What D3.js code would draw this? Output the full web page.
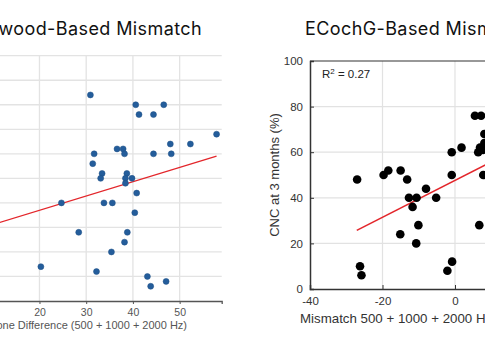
<!DOCTYPE html>
<html>
<head>
<meta charset="utf-8">
<script src="https://cdn.jsdelivr.net/npm/d3@7"></script>
<style>
  html, body { margin: 0; padding: 0; background: #fff; }
  svg { display: block; }
</style>
</head>
<body>
<script>
// ---------- data ----------
const greenX = [30.9, 40.6, 46.6, 41.3, 44.4, 57.9, 48.0, 52.3, 36.6, 37.9, 31.7, 38.2, 44.4, 48.2, 31.4, 33.4, 38.7, 33.1, 38.4, 39.8, 38.4, 40.8, 24.7, 33.8, 35.6, 40.4, 28.4, 38.8, 38.2, 35.4, 20.3, 32.2, 43.1, 47.1, 43.8];
const greenY = [84, 80, 80, 76, 76, 68, 64, 64, 62, 62, 60, 60, 60, 60, 56, 52, 52, 50, 50, 50, 48, 44, 40, 40, 40, 36, 28, 28, 24, 20, 14, 12, 10, 8, 6];
const greenFitX = [0, 57.9];
const greenFitY = [25.3, 59.1];
const greenXTicks = [10, 20, 30, 40, 50];
const greenYTicks = [0, 10, 20, 30, 40, 50, 60, 70, 80, 90, 100];

const ecochX = [-27.0, -19.7, -18.4, -15.0, -13.2, -12.7, -10.6, -11.7, -8.0, -5.2, -0.9, -0.9, 1.8, 5.5, 7.2, 7.8, 6.4, 6.9, 7.8, 8.1, 8.1, -15.1, -10.1, -10.7, -26.2, -25.8, -0.8, -2.1, 6.7];
const ecochY = [48, 50, 52, 52, 48, 40, 40, 36, 44, 40, 60, 50, 62, 76, 76, 50, 60, 62, 61, 64, 68, 24, 28, 20, 10, 6, 12, 8, 28];
const ecochFitX = [-27.1, 25];
const ecochFitY = [25.7, 67.9];
const ecochXTicks = [-40, -20, 0, 20, 40];
const ecochYTicks = [0, 20, 40, 60, 80, 100];
const ecochR2 = "0.27";

// ---------- svg ----------
const W = 485, H = 360;
const svg = d3.select("body").append("svg").attr("width", W).attr("height", H);
svg.append("rect").attr("width", W).attr("height", H).attr("fill", "#fff");

const plain = d => String(d); // hyphen-minus like the reference

// ===== Left panel: Greenwood-Based Mismatch =====
const gx = d3.scaleLinear().domain([-3, 59]).range([-68, 221.7]);
const gy = d3.scaleLinear().domain([0, 100]).range([301, 55.7]);
const gL = svg.append("g");

// grid
gL.append("g").selectAll("line").data(greenYTicks.filter(d => d > 0)).join("line")
  .attr("x1", gx.range()[0]).attr("x2", gx.range()[1])
  .attr("y1", d => gy(d)).attr("y2", d => gy(d))
  .attr("stroke", "#e3e3e3").attr("stroke-width", 1.3);
gL.append("g").selectAll("line").data(greenXTicks).join("line")
  .attr("x1", d => gx(d)).attr("x2", d => gx(d))
  .attr("y1", gy(0)).attr("y2", gy(100))
  .attr("stroke", "#e3e3e3").attr("stroke-width", 1.3);

// x axis
const gAxis = gL.append("g").attr("transform", `translate(0,${gy(0)})`)
  .call(d3.axisBottom(gx).tickValues(greenXTicks).tickSize(3).tickPadding(5).tickFormat(plain));
gAxis.select(".domain").attr("stroke", "#555").attr("stroke-width", 1.3);
gAxis.selectAll(".tick line").attr("stroke", "#555");
gAxis.selectAll("text").attr("fill", "#555").style("font-family", "Liberation Sans, Arial, sans-serif").style("font-size", "10.5px");

// fit line
gL.append("line")
  .attr("x1", gx(greenFitX[0])).attr("y1", gy(greenFitY[0]))
  .attr("x2", gx(greenFitX[1])).attr("y2", gy(greenFitY[1]))
  .attr("stroke", "#e3262b").attr("stroke-width", 1.3);

// dots
gL.append("g").selectAll("circle").data(greenX.map((x, i) => [x, greenY[i]])).join("circle")
  .attr("cx", d => gx(d[0])).attr("cy", d => gy(d[1])).attr("r", 3)
  .attr("fill", "#245d9b").attr("stroke", "#1d4e85").attr("stroke-width", 0.5);

// labels
gL.append("text").attr("x", 202).attr("y", 35).attr("text-anchor", "end")
  .style("font-family", "Inter, sans-serif").style("font-size", "18px").style("letter-spacing", "0.4px").attr("fill", "#111")
  .text("Greenwood-Based Mismatch");
gL.append("text").attr("x", 187).attr("y", 329).attr("text-anchor", "end")
  .style("font-family", "Liberation Sans, Arial, sans-serif").style("font-size", "11px").attr("fill", "#555")
  .text("Pure Tone Difference (500 + 1000 + 2000 Hz)");

// ===== Right panel: ECochG-Based Mismatch =====
const ex = d3.scaleLinear().domain([-40, 40]).range([310, 600]);
const ey = d3.scaleLinear().domain([0, 100]).range([289, 61]);
const gR = svg.append("g");

// grid
gR.append("g").selectAll("line").data(ecochYTicks.filter(d => d > 0 && d < 100)).join("line")
  .attr("x1", ex(-40)).attr("x2", ex(40))
  .attr("y1", d => ey(d)).attr("y2", d => ey(d))
  .attr("stroke", "#e2e2e2").attr("stroke-width", 1.2);
gR.append("g").selectAll("line").data(ecochXTicks.filter(d => d > -40 && d < 40)).join("line")
  .attr("x1", d => ex(d)).attr("x2", d => ex(d))
  .attr("y1", ey(0)).attr("y2", ey(100))
  .attr("stroke", "#e2e2e2").attr("stroke-width", 1.2);

// box top
gR.append("line").attr("x1", ex(-40)).attr("x2", ex(40)).attr("y1", ey(100)).attr("y2", ey(100))
  .attr("stroke", "#333").attr("stroke-width", 1.2);

// axes (MATLAB style inward ticks)
const eXAxis = gR.append("g").attr("transform", `translate(0,${ey(0)})`)
  .call(d3.axisBottom(ex).tickValues(ecochXTicks).tickSize(-4).tickPadding(8).tickFormat(plain));
const eYAxis = gR.append("g").attr("transform", `translate(${ex(-40)},0)`)
  .call(d3.axisLeft(ey).tickValues(ecochYTicks).tickSize(-4).tickPadding(7).tickFormat(plain));
[eXAxis, eYAxis].forEach(a => {
  a.select(".domain").attr("stroke", "#333").attr("stroke-width", 1.5);
  a.selectAll(".tick line").attr("stroke", "#333");
  a.selectAll("text").attr("fill", "#333").style("font-family", "Liberation Sans, Arial, sans-serif").style("font-size", "11.5px");
});

// fit line
gR.append("line")
  .attr("x1", ex(ecochFitX[0])).attr("y1", ey(ecochFitY[0]))
  .attr("x2", ex(ecochFitX[1])).attr("y2", ey(ecochFitY[1]))
  .attr("stroke", "#e3262b").attr("stroke-width", 1.6);

// dots
gR.append("g").selectAll("circle").data(ecochX.map((x, i) => [x, ecochY[i]])).join("circle")
  .attr("cx", d => ex(d[0])).attr("cy", d => ey(d[1])).attr("r", 4.3)
  .attr("fill", "#000");

// R^2
const r2 = gR.append("text").attr("x", 322).attr("y", 78)
  .style("font-family", "Liberation Sans, Arial, sans-serif").style("font-size", "11.5px").attr("fill", "#222");
r2.append("tspan").text("R");
r2.append("tspan").attr("dy", -4).style("font-size", "8px").text("2");
r2.append("tspan").attr("dy", 4).text(" = " + ecochR2);

// labels
gR.append("text").attr("x", 305).attr("y", 35)
  .style("font-family", "Inter, sans-serif").style("font-size", "18px").style("letter-spacing", "0.4px").attr("fill", "#111")
  .text("ECochG-Based Mismatch");
gR.append("text").attr("x", 300).attr("y", 323)
  .style("font-family", "Liberation Sans, Arial, sans-serif").style("font-size", "13.3px").attr("fill", "#333")
  .text("Mismatch 500 + 1000 + 2000 Hz (dB)");
gR.append("text").attr("transform", `translate(279,${ey(50)}) rotate(-90)`).attr("text-anchor", "middle")
  .style("font-family", "Liberation Sans, Arial, sans-serif").style("font-size", "13px").attr("fill", "#333")
  .text("CNC at 3 months (%)");
</script>
</body>
</html>
